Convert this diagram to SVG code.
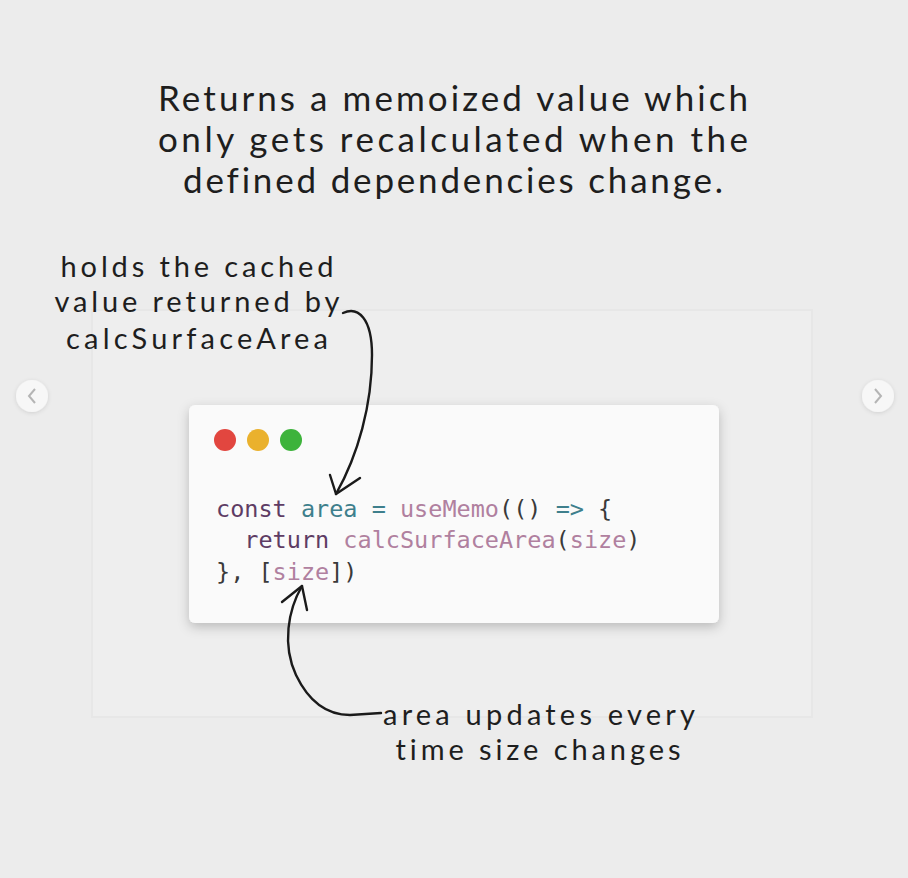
<svg xmlns="http://www.w3.org/2000/svg" width="908" height="878" viewBox="0 0 908 878">
<defs>
<filter id="sh" x="-10%" y="-10%" width="120%" height="130%">
<feDropShadow dx="0" dy="4" stdDeviation="6" flood-color="#000" flood-opacity="0.22"/>
</filter>
<filter id="sh2" x="-50%" y="-50%" width="200%" height="200%">
<feDropShadow dx="0" dy="1" stdDeviation="2" flood-color="#000" flood-opacity="0.12"/>
</filter>
<style>
.hand{font-family:Lato,"Open Sans","Liberation Sans",sans-serif;fill:#1e1e1e;text-anchor:middle;font-variant-ligatures:none}
.t{font-size:35px}
.n{font-size:29px}
.code{font-family:"DejaVu Sans Mono","Liberation Mono",monospace;font-size:23.5px;white-space:pre}
.kw{fill:#5e3c64}
.var{fill:#3e7f8c}
.fn{fill:#b0809f}
.pl{fill:#3a3a3a}
.arr{fill:none;stroke:#1a1a1a;stroke-width:2.4;stroke-linecap:round;stroke-linejoin:round}
</style>
</defs>
<rect width="908" height="878" fill="#ececec"/>
<rect x="92" y="310" width="720" height="407" fill="#eeeeee" stroke="#e7e7e7" stroke-width="2"/>

<g id="title">
<text class="hand t" x="453" y="111" textLength="590">Returns a memoized value which</text>
<text class="hand t" x="453" y="152" textLength="590">only gets recalculated when the</text>
<text class="hand t" x="453" y="193" textLength="540">defined dependencies change.</text>
</g>

<g id="note-top">
<text class="hand n" x="197" y="277" textLength="273">holds the cached</text>
<text class="hand n" x="197" y="312" textLength="285">value returned by</text>
<text class="hand n" x="197" y="349" textLength="262">calcSurfaceArea</text>
</g>

<g id="code-card">
<rect x="189" y="405" width="530" height="218" rx="6" fill="#fafafa" filter="url(#sh)"/>
<circle cx="225" cy="440" r="11" fill="#e2463f"/>
<circle cx="258" cy="440" r="11" fill="#eab12d"/>
<circle cx="291" cy="440" r="11" fill="#3db33b"/>
<text class="code" x="216" y="517"><tspan class="kw">const</tspan> <tspan class="var">area</tspan> <tspan class="var">=</tspan> <tspan class="fn">useMemo</tspan><tspan class="pl">(()</tspan> <tspan class="var">=&gt;</tspan> <tspan class="pl">{</tspan></text>
<text class="code" x="216" y="548"><tspan class="kw">  return</tspan> <tspan class="fn">calcSurfaceArea</tspan><tspan class="pl">(</tspan><tspan class="fn">size</tspan><tspan class="pl">)</tspan></text>
<text class="code" x="216" y="580"><tspan class="pl">}, [</tspan><tspan class="fn">size</tspan><tspan class="pl">])</tspan></text>
</g>

<g id="note-bottom">
<text class="hand n" x="539" y="725" textLength="312">area updates every</text>
<text class="hand n" x="538" y="760" textLength="285">time size changes</text>
</g>

<g id="nav-left">
<circle cx="32" cy="396" r="16" fill="#f7f7f7" filter="url(#sh2)"/>
<path d="M35 389 L29 396 L35 403" fill="none" stroke="#b5b5b5" stroke-width="2"/>
</g>
<g id="nav-right">
<circle cx="878" cy="396" r="16" fill="#f7f7f7" filter="url(#sh2)"/>
<path d="M875 389 L881 396 L875 403" fill="none" stroke="#b5b5b5" stroke-width="2"/>
</g>

<g id="connectors">
<path class="arr" d="M343 313 C358 306 372 318 372 355 C372 405 358 455 336 494"/>
<path class="arr" d="M330 475 L336 494 L360 478"/>
<path class="arr" d="M302 586 C288 610 282 645 296 675 C308 700 325 715 350 715 L381 713"/>
<path class="arr" d="M282 602 L302 586 L307 610"/>
</g>
</svg>
